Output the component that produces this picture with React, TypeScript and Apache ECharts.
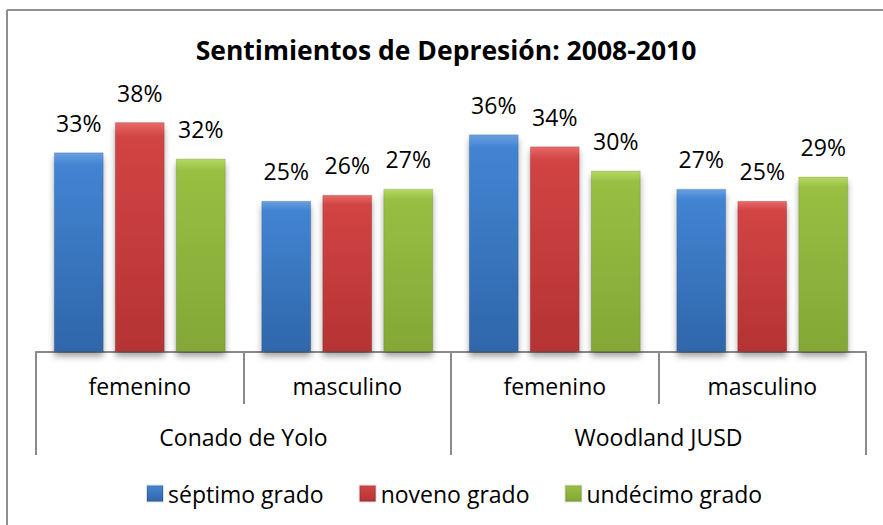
import React, { useEffect, useRef } from "react";
import * as echarts from "echarts";

const groups = ["Conado de Yolo", "Woodland JUSD"];
const genders = ["femenino", "masculino", "femenino", "masculino"];
const seriesNames = ["séptimo grado", "noveno grado", "undécimo grado"];
const septimo = [33, 25, 36, 27];
const noveno = [38, 26, 34, 25];
const undecimo = [32, 27, 30, 29];
const titleText = "Sentimientos de Depresión: 2008-2010";

const FONT = "Open Sans";

function grad(top: string, mid: string, bottom: string) {
  return new echarts.graphic.LinearGradient(0, 0, 0, 1, [
    { offset: 0, color: top },
    { offset: 0.06, color: mid },
    { offset: 1, color: bottom },
  ]);
}

export default function App() {
  const ref = useRef<HTMLDivElement>(null);
  useEffect(() => {
    if (!ref.current) return;
    const chart = echarts.init(ref.current, null, { renderer: "svg" });
    const colors = [
      { g: grad("#6aa0e0", "#4284d2", "#2f66aa") },
      { g: grad("#e86a6a", "#d24444", "#b53333") },
      { g: grad("#b7d965", "#98bf42", "#84a737") },
    ];
    const datas = [septimo, noveno, undecimo];
    const labelStyle = {
      show: true,
      position: "top" as const,
      distance: 18,
      formatter: "{c}%",
      fontFamily: FONT,
      fontSize: 23,
      color: "#000",
    };
    chart.setOption({
      animation: false,
      backgroundColor: "#fff",
      title: {
        text: titleText,
        left: 441,
        textAlign: "center",
        top: 31,
        textStyle: { fontFamily: FONT, fontWeight: "bold", fontSize: 26.5, color: "#000" },
      },
      graphic: [
        { type: "line", shape: { x1: 7, y1: 10, x2: 883, y2: 10 }, style: { stroke: "#8e8e8e", lineWidth: 2 } },
        { type: "line", shape: { x1: 7, y1: 10, x2: 7, y2: 525 }, style: { stroke: "#8e8e8e", lineWidth: 2 } },
      ],
      legend: {
        left: 141,
        top: 477,
        itemWidth: 16,
        itemHeight: 16,
        itemGap: 35,
        icon: "rect",
        textStyle: { fontFamily: FONT, fontSize: 23, color: "#000" },
        data: seriesNames.map((n, i) => ({ name: n, itemStyle: { color: colors[i].g } })),
      },
      grid: { left: 36, right: 17, top: 110, bottom: 173, containLabel: false },
      xAxis: [
        {
          type: "category",
          data: genders,
          position: "bottom",
          axisLine: { show: true, lineStyle: { color: "#8a8a8a", width: 2 } },
          axisTick: { show: true, length: 52, lineStyle: { color: "#8a8a8a", width: 2 } },
          axisLabel: { margin: 22, fontFamily: FONT, fontSize: 23, color: "#000" },
        },
        {
          type: "category",
          data: groups,
          position: "bottom",
          axisLine: { show: false },
          axisTick: { show: true, length: 103, lineStyle: { color: "#8a8a8a", width: 2 } },
          axisLabel: { margin: 73, fontFamily: FONT, fontSize: 23, color: "#000" },
        },
      ],
      yAxis: { type: "value", min: 0, max: 40, show: false, splitLine: { show: false } },
      series: datas.map((d, i) => ({
        name: seriesNames[i],
        type: "bar",
        xAxisIndex: 0,
        data: d,
        barWidth: 50,
        barGap: "22%",
        itemStyle: {
          color: colors[i].g,
          borderColor: "rgba(0,0,0,0.12)",
          borderWidth: 1,
          shadowBlur: 6,
          shadowColor: "rgba(0,0,0,0.35)",
          shadowOffsetY: 5,
        },
        label: labelStyle,
      })),
    });
    return () => chart.dispose();
  }, []);
  return (
    <div
      ref={ref}
      style={{ position: "absolute", left: 0, top: 0, width: 883, height: 525 }}
    />
  );
}
